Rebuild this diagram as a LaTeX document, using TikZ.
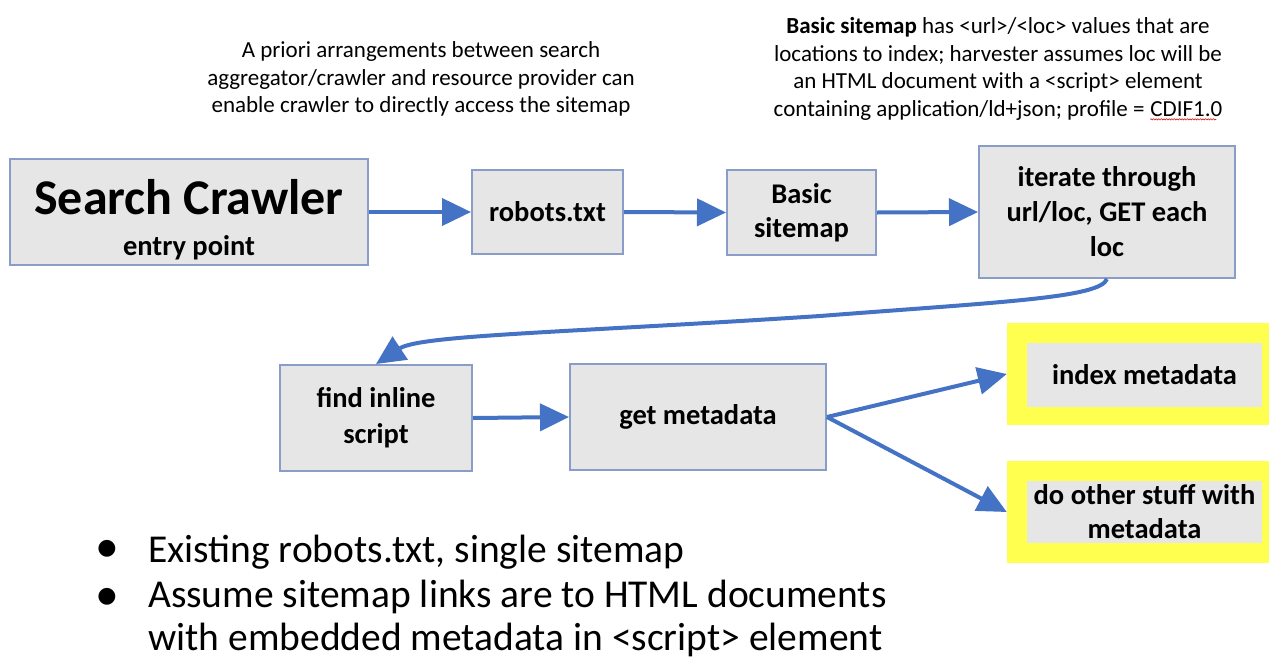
\documentclass[tikz,border=0pt]{standalone}
\usepackage{fontspec}
\setmainfont{Carlito}
\newfontfamily\symfont{DejaVu Sans}
\usetikzlibrary{arrows.meta,decorations.pathmorphing}

\definecolor{flowblue}{HTML}{4472C4}
\definecolor{boxfill}{HTML}{E6E6E6}
\definecolor{boxline}{HTML}{8A9CC8}
\definecolor{hilite}{HTML}{FFFF4F}

% red spell-check squiggle under a word
\newcommand\spellmark[1]{\tikz[baseline=(cdifword.base)]{%
  \node[inner sep=0pt](cdifword){#1};
  \draw[red!80!black, line width=0.5pt, decorate,
        decoration={snake,amplitude=0.7pt,segment length=2.6pt}]
    ([yshift=-3pt]cdifword.base west) -- ([yshift=-3pt,xshift=-6pt]cdifword.base east);}}

\tikzset{
  stepbox/.style={draw=boxline, line width=2pt, fill=boxfill, inner sep=0pt,
                  align=center, font=\fontsize{28.5}{35}\selectfont\bfseries},
  hibox/.style={fill=hilite, draw=none, inner sep=0pt},
  innerbox/.style={fill=boxfill, draw=none, inner sep=0pt, align=center,
                   font=\fontsize{28.5}{34}\selectfont\bfseries},
  flow/.style={draw=flowblue, line width=4pt, -{Triangle[length=29pt,width=27pt]}},
  note/.style={align=center, inner sep=0pt, font=\fontsize{23}{27.5}\selectfont},
  bullettext/.style={anchor=base west, inner sep=0pt, font=\fontsize{39.5}{45}\selectfont},
  bulletdot/.style={inner sep=0pt, font=\symfont\fontsize{22}{22}\selectfont}
}

\begin{document}
\begin{tikzpicture}[x=1pt,y=-1pt]
\useasboundingbox (0,0) rectangle (1269,659);

% top row
\node[stepbox, minimum width=358pt, minimum height=106pt] (crawl) at (189,212)
  {\rule{0pt}{50pt}{\fontsize{50}{52}\selectfont Search Crawler}\\[6pt]entry point};
\node[stepbox, minimum width=151pt, minimum height=84pt] (robots) at (547.5,212) {robots.txt};
\node[stepbox, minimum width=149pt, minimum height=85pt, font=\fontsize{28.5}{34}\selectfont\bfseries]
  (basic) at (801.5,212.5) {Basic\\sitemap};
\node[stepbox, minimum width=256pt, minimum height=132pt] (iter) at (1107,212)
  {iterate through\\url/loc, GET each\\loc};

% second row
\node[stepbox, minimum width=192pt, minimum height=106pt, font=\fontsize{28.5}{36}\selectfont\bfseries]
  (find) at (376,418) {find inline\\script};
\node[stepbox, minimum width=256pt, minimum height=106pt] (getm) at (698,417) {get metadata};

% highlighted outcomes
\node[hibox, minimum width=262pt, minimum height=102pt] (idxY) at (1138,374) {};
\node[innerbox, minimum width=235pt, minimum height=64pt] (idx) at (1144.5,375) {index metadata};
\node[hibox, minimum width=262pt, minimum height=102pt] (othY) at (1138,512) {};
\node[innerbox, minimum width=235pt, minimum height=62pt] (oth) at (1144.5,512)
  {do other stuff with\\metadata};

% notes
\node[note] (apriori) at (421,79)
  {A priori arrangements between search\\
   aggregator/crawler and resource provider can\\
   enable crawler to directly access the sitemap};
\node[note] (sitemapnote) at (998,69)
  {\textbf{Basic sitemap} has <url>/<loc> values that are\\
   locations to index; harvester assumes loc will be\\
   an HTML document with a <script> element\\
   containing application/ld+json; profile = \spellmark{CDIF1.0}};

% connectors
\draw[flow] (crawl.east) -- (robots.west);
\draw[flow] (robots.east) -- (basic.west);
\draw[flow] (basic.east) -- (iter.west);
\coordinate (bend) at (820,316);
\draw[flow] (iter.south) .. controls (1100,298) and (1000,302) .. (bend)
  .. controls (560,333) and (420,335) .. (find.north);
\draw[flow] (find.east) -- (getm.west);
\draw[flow] (getm.east) -- (idxY.west);
\draw[flow] (getm.east) -- (othY.west);

% bullet list
\node[bulletdot] (b1) at (107,549) {●};
\node[bulletdot] (b2) at (107,597) {●};
\node[bullettext] (l1) at (148,562) {Existing robots.txt, single sitemap};
\node[bullettext] (l2) at (148,607) {Assume sitemap links are to HTML documents};
\node[bullettext] (l3) at (148,650) {with embedded metadata in <script> element};
\end{tikzpicture}
\end{document}
